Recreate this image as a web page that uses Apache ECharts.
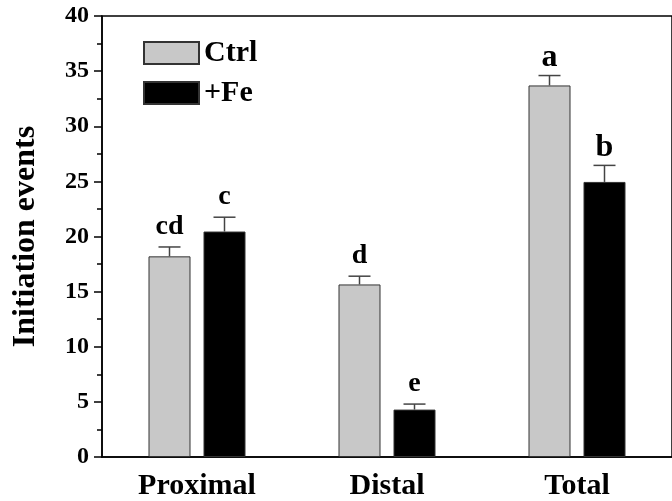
<!DOCTYPE html>
<html>
<head>
<meta charset="utf-8">
<script src="https://cdn.jsdelivr.net/npm/echarts@6/dist/echarts.min.js"></script>
<style>html,body{margin:0;padding:0;background:#fff}#c{width:672px;height:501px}</style>
</head>
<body>
<div id="c"></div>
<script>
const categories = ['Proximal', 'Distal', 'Total'];
const ctrlValues = [18.2, 15.65, 33.7];
const ctrlErrors = [0.85, 0.75, 0.9];
const feValues = [20.45, 4.3, 24.95];
const feErrors = [1.3, 0.5, 1.5];
const ctrlLetters = ['cd', 'd', 'a'];
const feLetters = ['c', 'e', 'b'];
const yTicks = [0, 5, 10, 15, 20, 25, 30, 35, 40];

const FONT = '"Liberation Serif", "Times New Roman", serif';
const BAR_W = 42, GAP_PX = 13;
const OFFSET = (BAR_W + GAP_PX) / 2;

function errSeries(name, values, errors, letters, sign) {
  return {
    type: 'custom',
    name: name + ' err',
    z: 5,
    silent: true,
    data: values.map((v, i) => [i, v, errors[i]]),
    renderItem: function (params, api) {
      const i = api.value(0), m = api.value(1), e = api.value(2);
      const p0 = api.coord([i, m]);
      const p1 = api.coord([i, m + e]);
      const x = p0[0] + sign * OFFSET;
      const big = (i === 2);
      return {
        type: 'group',
        children: [
          { type: 'line', shape: { x1: x, y1: p0[1], x2: x, y2: p1[1] }, style: { stroke: '#444', lineWidth: 1.5 } },
          { type: 'line', shape: { x1: x - 11, y1: p1[1], x2: x + 11, y2: p1[1] }, style: { stroke: '#444', lineWidth: 1.5 } },
          { type: 'text', x: x, y: p1[1] - (big ? 2 : 6),
            style: { text: letters[params.dataIndex], align: 'center', verticalAlign: 'bottom',
              fontFamily: FONT, fontWeight: 'bold', fontSize: big ? 32 : 28, fill: '#000' } }
        ]
      };
    }
  };
}

const chart = echarts.init(document.getElementById('c'));
chart.setOption({
  animation: false,
  backgroundColor: '#fff',
  grid: { left: 102, right: -9, top: 16, bottom: 43, show: true, borderColor: '#000', borderWidth: 1.5, backgroundColor: 'transparent' },
  legend: {
    orient: 'vertical', left: 138, top: 33,
    itemWidth: 55, itemHeight: 22, itemGap: 10,
    textStyle: { fontFamily: FONT, fontWeight: 'bold', fontSize: 30, color: '#000' },
    data: [{ name: 'Ctrl', icon: 'rect' }, { name: '+Fe', icon: 'rect' }]
  },
  xAxis: {
    type: 'category', data: categories, boundaryGap: true,
    axisLine: { lineStyle: { color: '#000', width: 1.5 } },
    axisTick: { alignWithLabel: true, length: 8, lineStyle: { color: '#000', width: 1.5 } },
    axisLabel: { margin: 14, fontFamily: FONT, fontWeight: 'bold', fontSize: 30, color: '#000' },
    splitLine: { show: false }
  },
  yAxis: {
    type: 'value', min: yTicks[0], max: yTicks[yTicks.length - 1], interval: 5,
    name: 'Initiation events', nameLocation: 'middle', nameGap: 60, nameRotate: 90,
    nameTextStyle: { fontFamily: FONT, fontWeight: 'bold', fontSize: 32, color: '#000' },
    axisLine: { show: true, lineStyle: { color: '#000', width: 1.5 } },
    axisTick: { show: true, inside: false, length: 8, lineStyle: { color: '#000', width: 1.5 } },
    minorTick: { show: true, splitNumber: 2, length: 5, lineStyle: { color: '#000', width: 1.5 } },
    axisLabel: { margin: 13, fontFamily: FONT, fontWeight: 'bold', fontSize: 24, color: '#000' },
    splitLine: { show: false }
  },
  series: [
    { type: 'bar', name: 'Ctrl', data: ctrlValues, barWidth: BAR_W, barGap: (GAP_PX / BAR_W * 100) + '%',
      itemStyle: { color: '#c8c8c8', borderColor: '#333', borderWidth: 1 } },
    { type: 'bar', name: '+Fe', data: feValues, barWidth: BAR_W,
      itemStyle: { color: '#000', borderColor: '#333', borderWidth: 1 } },
    errSeries('Ctrl', ctrlValues, ctrlErrors, ctrlLetters, -1),
    errSeries('+Fe', feValues, feErrors, feLetters, 1)
  ]
});
</script>
</body>
</html>
